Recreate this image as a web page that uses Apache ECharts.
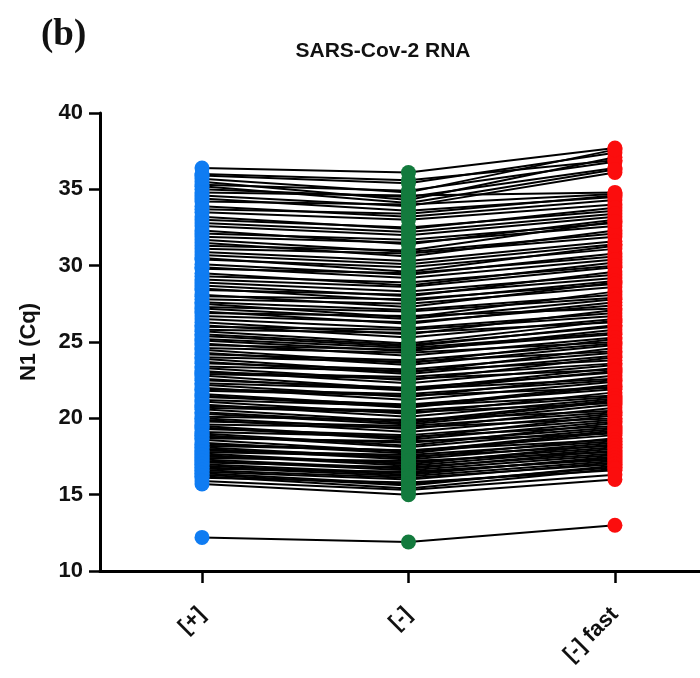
<!DOCTYPE html>
<html>
<head>
<meta charset="utf-8">
<script src="https://cdn.jsdelivr.net/npm/echarts@6/dist/echarts.min.js"></script>
<style>
  html, body { margin: 0; padding: 0; background: #fff; }
  #chart { width: 700px; height: 678px; }
</style>
</head>
<body>
<div id="chart"></div>
<script>
// Paired N1 Cq values per sample, measured under three extraction conditions
const categories = ['[+]', '[-]', '[-] fast'];

const cqPlus = [
  36.4, 35.9, 35.5, 35.3, 35.0, 34.6, 34.2, 33.9, 33.5, 33.0,
  32.6, 32.3, 31.9, 31.5, 31.1, 30.7, 30.4, 30.1, 29.8, 29.5,
  29.1, 28.7, 28.4, 28.1, 27.8, 27.5, 27.3, 27.0, 26.7, 26.3,
  26.0, 25.7, 25.4, 25.1, 24.8, 24.5, 24.2, 23.9, 23.6, 23.3,
  23.0, 22.8, 22.5, 22.2, 21.9, 21.6, 21.4, 21.1, 20.8, 20.6,
  20.3, 20.0, 19.8, 19.5, 19.3, 19.0, 18.8, 18.6, 18.3, 18.1,
  17.9, 17.7, 17.5, 17.3, 17.1, 16.9, 16.7, 16.5, 16.3, 16.1,
  15.7, 12.2,
  36.0, 35.7, 35.2, 34.8, 34.4, 33.7, 33.2, 32.8, 32.1, 31.7,
  31.3, 30.9, 30.5, 29.9, 29.3, 28.9, 28.5, 28.0, 27.6, 27.2,
  26.9, 26.5, 26.1, 25.8, 25.5, 25.2, 24.9, 24.6, 24.3, 24.0,
  23.7, 23.4, 23.1, 22.9, 22.6, 22.3, 22.0, 21.8, 21.5, 21.2,
  20.9, 20.7, 20.4, 20.1, 19.9, 19.6, 19.4, 19.1, 18.9, 18.7,
  18.4, 18.2, 18.0, 17.8, 17.6, 17.4, 17.2, 17.0, 16.8, 16.6,
  16.4, 16.2, 15.9
];

const cqMinus = [
  36.1, 35.4, 34.3, 34.9, 34.5, 33.9, 34.0, 33.2, 33.0, 32.5,
  32.0, 31.4, 31.5, 30.6, 30.8, 30.1, 29.9, 29.4, 29.5, 28.7,
  28.6, 28.0, 28.1, 27.3, 27.5, 26.6, 27.0, 26.2, 26.3, 25.5,
  25.8, 24.9, 24.7, 24.4, 24.5, 23.6, 23.8, 23.0, 23.2, 22.5,
  22.7, 21.9, 22.0, 21.4, 21.6, 20.8, 20.9, 20.3, 20.5, 19.8,
  19.6, 19.3, 19.5, 18.7, 18.9, 18.2, 18.4, 17.8, 17.9, 17.4,
  17.6, 17.0, 17.1, 16.7, 16.8, 16.3, 16.5, 16.0, 15.6, 15.8,
  15.0, 11.9,
  35.6, 34.8, 34.1, 34.6, 33.6, 33.4, 32.4, 32.2, 31.7, 30.9,
  31.0, 30.3, 29.6, 29.2, 28.9, 28.3, 27.7, 27.8, 27.1, 26.5,
  26.7, 25.9, 25.3, 25.6, 24.8, 24.6, 24.1, 24.3, 23.5, 23.7,
  22.9, 23.1, 22.3, 22.6, 21.8, 21.9, 21.2, 21.5, 20.7, 20.8,
  20.1, 20.4, 19.7, 19.9, 19.1, 19.4, 18.6, 18.8, 18.1, 18.5,
  17.7, 17.9, 17.3, 17.5, 16.9, 17.2, 16.6, 16.4, 16.2, 16.1,
  15.7, 15.4, 15.3
];

const cqMinusFast = [
  37.7, 37.4, 37.1, 36.8, 36.4, 36.1, 34.7, 34.3, 34.0, 33.6,
  33.2, 33.0, 32.6, 32.3, 31.9, 31.4, 31.1, 30.8, 30.6, 30.2,
  29.9, 29.6, 29.2, 28.9, 28.6, 28.3, 27.9, 27.6, 27.4, 27.1,
  26.7, 26.4, 26.1, 25.8, 25.5, 25.2, 24.9, 24.6, 24.3, 24.0,
  23.6, 23.3, 23.0, 22.8, 22.5, 22.2, 21.9, 21.7, 21.4, 21.2,
  20.9, 20.7, 20.4, 20.2, 19.9, 19.7, 19.4, 19.2, 18.9, 18.7,
  18.5, 18.3, 18.1, 17.9, 17.7, 17.5, 17.3, 17.1, 16.9, 16.6,
  16.0, 13.0,
  36.9, 37.6, 36.3, 34.8, 34.5, 34.6, 33.8, 33.4, 32.8, 32.1,
  32.9, 31.6, 31.3, 30.4, 30.0, 29.4, 29.0, 28.8, 28.1, 27.8,
  27.2, 26.9, 26.5, 26.3, 26.0, 25.6, 25.3, 25.0, 24.8, 24.4,
  24.1, 23.8, 23.5, 23.2, 23.1, 22.6, 22.4, 22.0, 22.1, 21.5,
  21.3, 21.0, 21.1, 20.5, 20.3, 20.0, 19.8, 19.5, 19.3, 19.0,
  19.1, 18.6, 18.4, 18.2, 18.0, 17.8, 17.6, 17.4, 17.2, 17.0,
  16.8, 16.7, 16.3
];

const yTicks = [10, 15, 20, 25, 30, 35, 40];
const groupColors = ['#0f7cf2', '#137a3d', '#fb0d0d'];

const FONT = '"Liberation Sans", Arial, sans-serif';

const chart = echarts.init(document.getElementById('chart'), null, { renderer: 'canvas' });

// one connecting polyline per sample
const pairLines = cqPlus.map((v, i) => ({
  type: 'line',
  data: [[0, v], [1, cqMinus[i]], [2, cqMinusFast[i]]],
  symbol: 'none',
  silent: true,
  lineStyle: { color: '#000', width: 2 },
  z: 2
}));

// dots for each condition
const groups = [cqPlus, cqMinus, cqMinusFast];
const dots = groups.map((vals, g) => ({
  type: 'scatter',
  name: categories[g],
  data: vals.map(v => [g, v]),
  symbol: 'circle',
  symbolSize: 15,
  itemStyle: { color: groupColors[g], opacity: 1 },
  z: 5
}));

chart.setOption({
  animation: false,
  backgroundColor: '#fff',
  title: [
    {
      text: 'SARS-Cov-2 RNA',
      left: 378,
      top: 36,
      textAlign: 'center',
      textStyle: { fontFamily: FONT, fontWeight: 'bold', fontSize: 21, color: '#111' }
    },
    {
      text: '(b)',
      left: 36,
      top: 12,
      textStyle: { fontFamily: '"Liberation Serif", "Times New Roman", serif', fontWeight: 'bold', fontSize: 37, color: '#111' }
    }
  ],
  grid: { left: 100, right: 0, top: 113, bottom: 107, containLabel: false },
  xAxis: {
    type: 'value',
    min: -0.494,
    max: 2.412,
    splitLine: { show: false },
    axisLine: { show: true, onZero: false, lineStyle: { color: '#000', width: 3 } },
    axisTick: { show: true, customValues: [0, 1, 2], length: 12, lineStyle: { color: '#000', width: 2.5 } },
    axisLabel: {
      show: true,
      customValues: [0, 1, 2],
      formatter: v => categories[Math.round(v)],
      rotate: 45,
      margin: 40,
      fontFamily: FONT,
      fontWeight: 'bold',
      fontSize: 22,
      color: '#111'
    }
  },
  yAxis: {
    type: 'value',
    min: 10,
    max: 40,
    interval: 5,
    name: 'N1 (Cq)',
    nameLocation: 'middle',
    nameGap: 60,
    nameRotate: 90,
    nameTextStyle: { fontFamily: FONT, fontWeight: 'bold', fontSize: 22, color: '#111' },
    splitLine: { show: false },
    axisLine: { show: true, onZero: false, lineStyle: { color: '#000', width: 3 } },
    axisTick: { show: true, length: 11, lineStyle: { color: '#000', width: 2.5 } },
    axisLabel: {
      margin: 17,
      fontFamily: FONT,
      fontWeight: 'bold',
      fontSize: 22,
      color: '#111',
      formatter: v => (yTicks.includes(v) ? String(v) : '')
    }
  },
  series: [...pairLines, ...dots]
});
</script>
</body>
</html>
